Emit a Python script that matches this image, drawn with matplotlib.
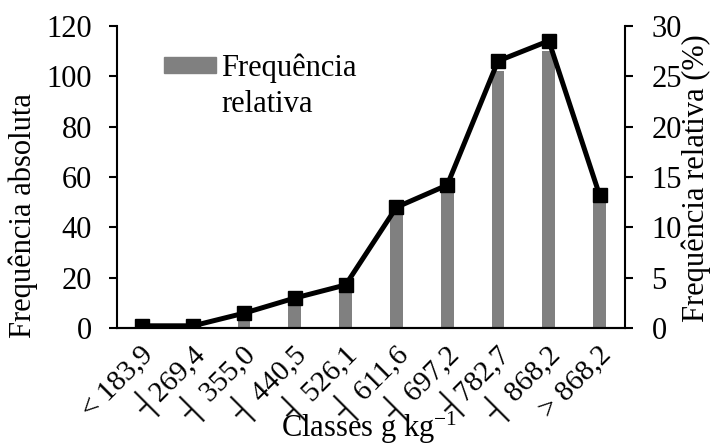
import matplotlib

matplotlib.use("Agg")

import matplotlib.pyplot as plt
from matplotlib.patches import Rectangle
from matplotlib.transforms import ScaledTranslation

plt.rcParams["font.family"] = ["Liberation Serif", "DejaVu Sans"]
plt.rcParams["mathtext.fontset"] = "custom"
plt.rcParams["mathtext.rm"] = "Liberation Serif"
plt.rcParams["mathtext.it"] = "Liberation Serif:italic"

classes = ["< 183,9", "\u2524269,4", "\u2524 355,0", "\u2524 440,5", "\u2524 526,1",
           "\u2524 611,6", "\u2524 697,2", "\u2524782,7", "\u2524 868,2", "> 868,2"]
freq_abs = [1, 1, 6, 10, 15, 46, 54, 102, 110, 50]
freq_rel = [0.25, 0.25, 1.5, 3.0, 4.3, 12.0, 14.2, 26.5, 28.5, 13.2]

FS = 22
x = list(range(len(classes)))

fig = plt.figure(figsize=(7.17, 4.45), dpi=100)
ax = fig.add_axes([0.1632, 0.2622, 0.7085, 0.68])
ax2 = ax.twinx()

ax.bar(x, freq_abs, width=0.25, color="#808080", zorder=2)
ax2.plot(x, freq_rel, color="black", linewidth=3.6, marker="s", markersize=9.5, zorder=3)

ax.set_xlim(-0.5, len(classes) - 0.5)
ax.set_ylim(0, 120)
ax2.set_ylim(0, 30)
ax.set_yticks(range(0, 121, 20))
ax2.set_yticks(range(0, 31, 5))

for a in (ax, ax2):
    a.spines["top"].set_visible(False)
    for s in a.spines.values():
        s.set_linewidth(1.5)
ax.spines["right"].set_visible(False)
ax2.spines["left"].set_visible(False)

ax.tick_params(axis="y", labelsize=FS, length=6, width=1.5, pad=12)
ax2.tick_params(axis="y", labelsize=FS, length=6, width=1.5, pad=13)
ax.tick_params(axis="x", length=0, pad=16)
ax.set_xticks(x)
ax.set_xticklabels(classes, rotation=45, ha="right", va="center",
                   rotation_mode="anchor", fontsize=FS - 1)
shift = ScaledTranslation(0.07, 0, fig.dpi_scale_trans)
for lab in ax.get_xticklabels():
    lab.set_transform(lab.get_transform() + shift)

ax.set_ylabel("Frequência absoluta", fontsize=FS)
ax.yaxis.set_label_coords(-0.155, 0.374)
ax2.set_ylabel("Frequência relativa (%)", fontsize=FS, rotation=90)
ax2.yaxis.set_label_coords(1.112, 0.496)
ax.set_xlabel("Classes g kg$^{-1}$", fontsize=FS, va="baseline")
ax.xaxis.set_label_coords(0.497, -0.358)

# legend drawn by hand so the patch sits on the first text line
ax.add_patch(Rectangle((0.0923, 0.8447), 0.102, 0.0529, transform=ax.transAxes,
                       color="#808080", clip_on=False, zorder=4))
ax.text(0.2057, 0.716, "Frequência\nrelativa", transform=ax.transAxes,
        fontsize=FS, va="baseline", ha="left", linespacing=1.3, zorder=4)

ax2.set_zorder(ax.get_zorder() + 1)
ax2.patch.set_visible(False)

fig.savefig("out.png", dpi=100)
